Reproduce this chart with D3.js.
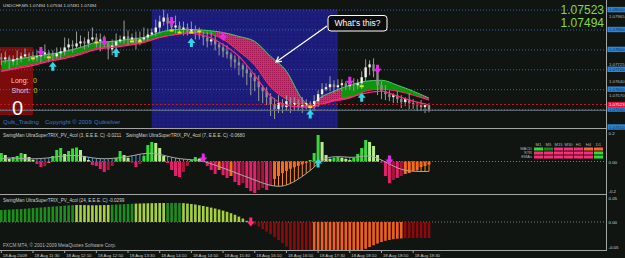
<!DOCTYPE html>
<html>
<head>
<meta charset="utf-8">
<script src="https://cdn.jsdelivr.net/npm/d3@7"></script>
<style>
html, body { margin: 0; padding: 0; background: #111512; overflow: hidden; }
svg { display: block; font-family: "Liberation Sans", Arial, sans-serif; }
</style>
</head>
<body>
<svg id="SVG_CONTAINER" width="625" height="258"></svg>
<script>
let d3 = window.d3;

const width = 625, height = 258;
const PLOT_RIGHT = 606;
const PIP = 0.0001;

// ---------- price chart (USDCHF M5, 18 Aug 2009) ----------
const chartTitle = "USDCHF,M5  1.07494 1.07534 1.07481 1.07494";
const firstBar = "10:50";
const lastBar = "19:50";
const firstOpen = 1.07760;
const closes = [
    1.07750,1.07760,1.07740,1.07750,1.07755,1.07765,1.07775,1.07770,1.07760,1.07765,
    1.07775,1.07785,1.07775,1.07765,1.07780,1.07790,1.07810,1.07825,1.07815,1.07830,
    1.07840,1.07830,1.07850,1.07860,1.07840,1.07850,1.07830,1.07800,1.07820,1.07840,
    1.07850,1.07865,1.07850,1.07860,1.07840,1.07850,1.07860,1.07875,1.07885,1.07910,
    1.07940,1.07960,1.07930,1.07910,1.07920,1.07900,1.07910,1.07890,1.07900,1.07880,
    1.07870,1.07860,1.07840,1.07850,1.07825,1.07810,1.07790,1.07775,1.07750,1.07735,
    1.07720,1.07700,1.07680,1.07660,1.07640,1.07610,1.07590,1.07560,1.07525,1.07500,
    1.07530,1.07510,1.07540,1.07520,1.07530,1.07510,1.07520,1.07530,1.07510,1.07540,
    1.07575,1.07600,1.07610,1.07625,1.07610,1.07620,1.07630,1.07615,1.07625,1.07620,
    1.07630,1.07660,1.07710,1.07725,1.07690,1.07620,1.07590,1.07575,1.07560,1.07570,
    1.07550,1.07535,1.07550,1.07530,1.07520,1.07525,1.07510,1.07520,1.07494
];
// wick lengths in pips above / below the body
const upperWick = [
    2,3,1,2,4,2,3,1,2,3, 2,4,1,2,3,2,5,3,2,6, 3,2,4,5,2,3,2,1,3,4,
    2,8,3,2,3,4,5,3,2,4, 3,4,2,3,5,2,3,2,4,2, 3,2,3,4,2,1,2,3,1,2,
    3,1,2,1,2,3,1,2,2,3, 4,2,3,2,3,2,4,2,1,3, 2,3,2,4,2,3,2,1,2,3,
    2,3,4,2,3,1,2,3,2,1, 2,2,1,3,2,1,2,1,1
];
const lowerWick = [
    3,2,4,2,3,2,1,3,2,2, 3,2,4,2,1,3,2,2,3,1, 2,3,2,1,3,5,2,5,3,2,
    1,2,3,2,4,2,1,2,1,2, 3,2,4,2,3,2,3,2,1,3, 2,4,3,2,3,4,3,2,4,3,
    5,4,6,9,5,7,6,4,6,5, 2,3,2,4,3,2,3,2,4,2, 3,2,1,2,3,2,3,2,2,3,
    2,3,2,4,3,5,4,3,2,3, 2,3,2,3,2,3,2,3,1
];
const askPrice = 1.07523, bidPrice = 1.07494;
const gridLevels = [1.0800, 1.0790, 1.0780, 1.0770, 1.0760, 1.0750];
const boxLevels = [1.0800, 1.0790, 1.0780, 1.0770, 1.0760, 1.0750, 1.0741];
const otherLevels = [1.07965, 1.07725, 1.07640, 1.07570];

// MA cloud (upper / lower edge) and the fast MA, sampled on these bars
const cloudBars  = [0,4,8,12,16,20,24,28,32,36,40,44,48,52,56,60,64,68,72,76,78,80,84,88,92,96,100,104,108];
const cloudUpper = [1.07740,1.07750,1.07765,1.07775,1.07790,1.07810,1.07835,1.07840,1.07850,1.07860,
                    1.07885,1.07900,1.07900,1.07895,1.07885,1.07865,1.07840,1.07765,1.07690,1.07550,
                    1.07515,1.07550,1.07590,1.07620,1.07640,1.07645,1.07620,1.07590,1.07555];
const cloudLower = [1.07690,1.07710,1.07725,1.07745,1.07760,1.07780,1.07805,1.07815,1.07825,1.07840,
                    1.07860,1.07875,1.07885,1.07880,1.07850,1.07790,1.07720,1.07610,1.07550,1.07520,
                    1.07510,1.07520,1.07540,1.07555,1.07590,1.07600,1.07590,1.07570,1.07545];
const cloudState = "GGGGGGGGGGGGGGPPPPPPPPPGGGGGP";
const fastMA     = [1.07690,1.07705,1.07720,1.07740,1.07755,1.07775,1.07800,1.07810,1.07820,1.07835,
                    1.07860,1.07875,1.07880,1.07865,1.07825,1.07765,1.07670,1.07565,1.07520,1.07510,
                    1.07510,1.07520,1.07545,1.07560,1.07580,1.07590,1.07565,1.07540,1.07520];
const crossBars   = [8, 12, 24, 33, 35, 43, 45, 48, 50, 78, 91];
const crossPrices = [1.07755,1.07760,1.07835,1.07840,1.07840,1.07895,1.07885,1.07885,1.07890,1.07510,1.07615];

const sellBars   = [10, 26, 43, 56, 88, 95];
const sellPrices = [1.07790, 1.07840, 1.07940, 1.07865, 1.07640, 1.07700];
const buyBars    = [13, 29, 48, 78, 91];
const buyPrices  = [1.07715, 1.07785, 1.07835, 1.07475, 1.07560];

const zoneStart = "14:00", zoneEnd = "17:55", zoneTop = 1.0800;

const tickTimes  = ["10:50","11:30","12:10","12:50","13:30","14:10","14:50","15:30","16:10","16:50","17:30","18:10","18:50","19:30"];
const tickLabels = ["18 Aug 2009","18 Aug 11:30","18 Aug 12:10","18 Aug 12:50","18 Aug 13:30","18 Aug 14:10","18 Aug 14:50",
                    "18 Aug 15:30","18 Aug 16:10","18 Aug 16:50","18 Aug 17:30","18 Aug 18:10","18 Aug 18:50","18 Aug 19:30"];

// ---------- SwingMan UltraSuperTRIX (3) and (7) ----------
const trix3 = [
    0.0586,0.0448,0.0172,0.0310,0.0380,0.0586,0.0517,0.0310,0.0103,-0.0172,
    -0.0379,-0.0310,-0.0103,0.0379,0.0793,0.0931,0.0517,0.0724,0.0897,0.0966,
    0.0793,0.0379,0.0103,-0.0241,-0.0310,-0.0517,-0.0724,-0.0586,-0.0310,0.0241,
    0.0724,0.0448,0.0241,-0.0069,-0.0379,-0.0172,0.0379,0.1138,0.1345,0.1276,
    0.0931,0.0379,-0.0103,-0.0586,-0.1000,-0.1069,-0.0724,-0.0310,0.0103,0.0310,
    0.0207,0.0034,-0.0310,-0.0586,-0.0862,-0.0586,-0.0931,-0.1138,-0.1000,-0.1414,
    -0.1621,-0.1483,-0.1828,-0.2034,-0.2172,-0.1966,-0.1828,-0.1966,-0.1690,-0.1200,
    -0.1000,-0.0800,-0.0650,-0.0500,-0.0400,-0.0300,-0.0200,-0.0100,0.0103,0.0586,
    0.1828,0.1345,0.0448,0.0172,0.0241,0.0310,0.0241,0.0172,0.0103,0.0241,
    0.0517,0.0931,0.1483,0.1345,0.1069,0.0448,-0.0069,-0.1000,-0.1483,-0.1276,
    -0.1138,-0.1000,-0.0862,-0.0793,-0.0655,-0.0586,-0.0379,-0.0310,-0.0211
];
const trix3State =
    "GLLGGGLLLP" + "PDOGGGLGGG" + "LLLPPPPDDG" + "GLLPPDGGGL" + "LLPPPPDDGG" +
    "LLPPPOPPOP" + "PDPPPDDPDO" + "OOOOOOOOGG" + "GLLLGGLLLG" + "GGGLLLPPPD" + "PDOOOOOOO";
const trix7 = [
    0.0207,0.0221,0.0241,0.0241,0.0228,0.0207,0.0193,0.0186,0.0186,0.0193,
    0.0207,0.0228,0.0255,0.0290,0.0324,0.0359,0.0386,0.0407,0.0414,0.0407,0.0386,
    0.0345,0.0297,0.0255,0.0221,0.0200,0.0193,0.0200,0.0214,0.0241,0.0276,0.0310,0.0345,0.0393,
    0.0448,0.0503,0.0545,0.0566,0.0566,0.0538,0.0490,0.0428,0.0359,
    0.0297,0.0241,0.0200,0.0166,0.0145,0.0124,0.0103,0.0069,0.0014,
    -0.0069,-0.0159,-0.0255,-0.0352,-0.0448,-0.0552,-0.0655,-0.0759,-0.0862,-0.0966,
    -0.1069,-0.1172,-0.1276,-0.1379,-0.1483,-0.1572,-0.1641,-0.1690,-0.1710,
    -0.1690,-0.1621,-0.1517,-0.1379,-0.1207,-0.1034,-0.0828,-0.0621,-0.0379,-0.0138,
    0.0069,
    0.0207,0.0290,0.0324,0.0331,0.0324,0.0310,0.0290,0.0290,0.0310,0.0345,0.0379,0.0379,0.0324,0.0221,
    0.0103,-0.0034,-0.0172,
    -0.0310,-0.0434,-0.0531,-0.0607,-0.0641,-0.0669,-0.0683,-0.0690,-0.0690,-0.0680
];
const trixSellBars = [51, 98], trixSellValues = [0.024, 0.010];
const trixBuyBars = [80], trixBuyValues = [-0.010];

// multi-timeframe table
const tfNames = ["M1", "M5", "M15", "M30", "H1", "H4", "D1"];
const tfRows = ["MACD", "STR", "EMAs"];
const tfStates = ["GDPPPOO", "PPPPPPG", "PPPPPPG"];

// ---------- SwingMan UltraSuperTRIX (24) ----------
const trix24 = [
    0.0224,0.0228,0.0231,0.0236,0.0240,0.0243,0.0248,0.0254,0.0260,0.0266,
    0.0271,0.0276,0.0283,0.0288,0.0293,0.0299,0.0305,0.0310,0.0314,0.0318,
    0.0318,0.0316,0.0314,0.0312,0.0312,0.0314,0.0316,0.0318,
    0.0321,0.0326,0.0329,0.0333,0.0336,0.0340,0.0344,0.0345,0.0348,0.0350,0.0352,0.0353,0.0355,0.0355,
    0.0355,0.0357,0.0357,0.0355,0.0352,
    0.0345,0.0336,0.0326,0.0312,0.0299,0.0284,0.0269,0.0252,0.0233,0.0213,0.0191,0.0164,0.0135,0.0101,0.0064,0.0022,
    -0.0015,-0.0047,-0.0084,-0.0131,-0.0178,-0.0224,-0.0281,-0.0336,-0.0393,-0.0458,
    -0.0523,-0.0561,-0.0588,-0.0607,-0.0617,-0.0626,-0.0626,-0.0626,-0.0621,-0.0617,
    -0.0607,-0.0598,-0.0595,-0.0587,-0.0578,-0.0566,-0.0553,-0.0540,-0.0525,
    -0.0501,-0.0467,-0.0434,-0.0402,-0.0374,-0.0351,-0.0335,-0.0321,-0.0312,-0.0307,
    -0.0303,-0.0301,-0.0298,-0.0297,-0.0297,-0.0298,-0.0299
];
const trix24Runs = [["G",19],["L",9],["G",6],["L",8],["G",4],["L",17],["R",16],["O",23],["R",7]];
const trix24SellBar = 63, trix24SellValue = 0.0;

// ---------- helpers ----------
function atTime(hhmm) {
    const [h, m] = hhmm.split(":").map(Number);
    return new Date(2009, 7, 18, h, m);
}
const barTime = i => d3.timeMinute.offset(atTime(firstBar), 5 * i);

const svg = d3.select("#SVG_CONTAINER");
const defs = svg.append("defs");

svg.append("rect").attr("width", width).attr("height", height).attr("fill", "#111512");

const x  = d3.scaleTime().domain([atTime(firstBar), atTime(lastBar)]).range([1.3, 429]);
const y  = d3.scaleLinear().domain([1.0741, 1.0805]).range([127, -0.35]);
const y2 = d3.scaleLinear().domain([-0.224, 0.224]).range([194, 129]);
const y3 = d3.scaleLinear().domain([-0.0523, 0.0523]).range([250, 194]);

function clipRect(id, top, bottom) {
    defs.append("clipPath").attr("id", id)
        .append("rect").attr("x", 0).attr("y", top).attr("width", PLOT_RIGHT).attr("height", bottom - top);
}
clipRect("clipMain", 0, 128);
clipRect("clipTrix", 129, 194);
clipRect("clipSlow", 195, 250);

// patterns
let pat = defs.append("pattern").attr("id", "blueDots").attr("patternUnits", "userSpaceOnUse")
    .attr("width", 4).attr("height", 4);
pat.append("rect").attr("width", 4).attr("height", 4).attr("fill", "#1d1d7c");
pat.append("rect").attr("x", 1).attr("y", 2).attr("width", 1).attr("height", 1).attr("fill", "#12125a");

pat = defs.append("pattern").attr("id", "pinkHatch").attr("patternUnits", "userSpaceOnUse")
    .attr("width", 2).attr("height", 2);
pat.append("rect").attr("width", 2).attr("height", 2).attr("fill", "#dc2672");
pat.append("rect").attr("width", 1).attr("height", 1).attr("fill", "#a01450");

const arrowDown = "M-4,-0.5L-1.5,-0.5L-1.5,-4.5L1.5,-4.5L1.5,-0.5L4,-0.5L0,4.5Z";
const arrowUp   = "M-4,0.5L-1.5,0.5L-1.5,4.5L1.5,4.5L1.5,0.5L4,0.5L0,-4.5Z";
const SELL = "#e22ee2", BUY = "#2ed6e6";

// ================= main chart =================
const main = svg.append("g").attr("clip-path", "url(#clipMain)");

// highlighted session zone
main.append("rect")
    .attr("x", x(atTime(zoneStart)))
    .attr("y", y(zoneTop))
    .attr("width", x(atTime(zoneEnd)) - x(atTime(zoneStart)))
    .attr("height", 128 - y(zoneTop))
    .attr("fill", "url(#blueDots)");

// info panel background
main.append("rect").attr("x", 0).attr("y", 47).attr("width", 33).attr("height", 68).attr("fill", "#7c0b0b");

// grid
main.append("g").selectAll("line").data(gridLevels).join("line")
    .attr("x1", 0).attr("x2", PLOT_RIGHT)
    .attr("y1", d => y(d) + 0.5).attr("y2", d => y(d) + 0.5)
    .attr("stroke", "#3a62b0").attr("stroke-dasharray", "1,2");

// cloud
const cloud = cloudBars.map((b, k) => ({ t: barTime(b), up: cloudUpper[k], lo: cloudLower[k], s: cloudState[k], f: fastMA[k] }));
const cloudArea = d3.area().x(d => x(d.t)).y0(d => y(d.lo)).y1(d => y(d.up)).curve(d3.curveMonotoneX);
defs.append("clipPath").attr("id", "cloudClip").append("path").attr("d", cloudArea(cloud));
const edgeL = k => k === 0 ? x(cloud[k].t) - 4 : (x(cloud[k - 1].t) + x(cloud[k].t)) / 2;
const edgeR = k => k === cloud.length - 1 ? x(cloud[k].t) + 4 : (x(cloud[k].t) + x(cloud[k + 1].t)) / 2;
main.append("g").attr("clip-path", "url(#cloudClip)")
    .selectAll("rect").data(cloud).join("rect")
    .attr("x", (d, k) => edgeL(k)).attr("width", (d, k) => edgeR(k) - edgeL(k) + 0.5)
    .attr("y", 0).attr("height", 128)
    .attr("fill", d => d.s === "G" ? "#0d960d" : "url(#pinkHatch)");

main.append("path").datum(cloud)
    .attr("d", d3.line().x(d => x(d.t)).y(d => y(d.up)).curve(d3.curveMonotoneX))
    .attr("fill", "none").attr("stroke", "#4ccc6a").attr("stroke-width", 1);
main.append("path").datum(cloud)
    .attr("d", d3.line().x(d => x(d.t)).y(d => y(d.lo)).curve(d3.curveMonotoneX))
    .attr("fill", "none").attr("stroke", "#ff2468").attr("stroke-width", 1);

// candles
const bars = closes.map((c, i) => {
    const o = i === 0 ? firstOpen : closes[i - 1];
    return { t: barTime(i), o: o, c: c, h: Math.max(o, c) + upperWick[i] * PIP, l: Math.min(o, c) - lowerWick[i] * PIP };
});
const bw = 2.4;
main.append("g").selectAll("line").data(bars).join("line")
    .attr("x1", d => x(d.t)).attr("x2", d => x(d.t))
    .attr("y1", d => y(d.h)).attr("y2", d => y(d.l))
    .attr("stroke", "#9a9a9a").attr("stroke-width", 1);
main.append("g").selectAll("rect").data(bars).join("rect")
    .attr("x", d => x(d.t) - bw / 2).attr("width", bw)
    .attr("y", d => y(Math.max(d.o, d.c)))
    .attr("height", d => Math.max(1, Math.abs(y(d.o) - y(d.c))))
    .attr("fill", d => d.c > d.o ? "#f2f2f2" : "#8c8c8c");

// fast MA
main.append("path").datum(cloud)
    .attr("d", d3.line().x(d => x(d.t)).y(d => y(d.f)).curve(d3.curveMonotoneX))
    .attr("fill", "none").attr("stroke", "#ff2a7a").attr("stroke-width", 1.2);

// cross marks
main.append("g").selectAll("rect").data(crossBars).join("rect")
    .attr("x", (b) => x(barTime(b)) - 2).attr("width", 4)
    .attr("y", (b, k) => y(crossPrices[k]) - 1).attr("height", 2)
    .attr("fill", "#e6e020");

// ask / bid
main.append("line").attr("x1", 0).attr("x2", PLOT_RIGHT).attr("y1", y(askPrice)).attr("y2", y(askPrice))
    .attr("stroke", "#c8141e").attr("stroke-dasharray", "2,2");
main.append("line").attr("x1", 0).attr("x2", PLOT_RIGHT).attr("y1", y(bidPrice)).attr("y2", y(bidPrice))
    .attr("stroke", "#6c7884");

// signal arrows
main.append("g").selectAll("path").data(sellBars).join("path")
    .attr("transform", (b, k) => `translate(${x(barTime(b))},${y(sellPrices[k])})`)
    .attr("d", arrowDown).attr("fill", SELL);
main.append("g").selectAll("path").data(buyBars).join("path")
    .attr("transform", (b, k) => `translate(${x(barTime(b))},${y(buyPrices[k])})`)
    .attr("d", arrowUp).attr("fill", BUY);

// texts on main chart
main.append("text").attr("x", 3).attr("y", 7).text(chartTitle)
    .style("font-size", "4.4px").attr("fill", "#d8d8d8");
main.append("text").attr("x", 11).attr("y", 82.7).text("Long:").style("font-size", "7px").attr("fill", "#f2c8d0");
main.append("text").attr("x", 33).attr("y", 82.7).text("0").style("font-size", "7px").attr("fill", "#c8c400");
main.append("text").attr("x", 11.5).attr("y", 92.7).text("Short:").style("font-size", "7px").attr("fill", "#f2c8d0");
main.append("text").attr("x", 33.5).attr("y", 92.7).text("0").style("font-size", "7px").attr("fill", "#c8c400");
main.append("text").attr("x", 12).attr("y", 115).text("0").style("font-size", "20px").attr("fill", "#ffffff");
main.append("text").attr("x", 3).attr("y", 124).text("Quik_Trading").style("font-size", "6px").attr("fill", "#3a72d4");
main.append("text").attr("x", 45).attr("y", 124).text("Copyright © 2009").style("font-size", "6px").attr("fill", "#3a72d4");
main.append("text").attr("x", 94).attr("y", 124).text("Quiksilver").style("font-size", "6px").attr("fill", "#3a72d4");

main.append("text").attr("x", 604).attr("y", 14).attr("text-anchor", "end").text(d3.format(".5f")(askPrice))
    .style("font-size", "12px").attr("fill", "#84da3a");
main.append("text").attr("x", 604).attr("y", 27).attr("text-anchor", "end").text(d3.format(".5f")(bidPrice))
    .style("font-size", "12px").attr("fill", "#84da3a");

// "What's this?" call-out
main.append("rect").attr("x", 328).attr("y", 15.5).attr("width", 59).attr("height", 15.5).attr("rx", 3)
    .attr("fill", "#0c0c0c").attr("stroke", "#ffffff").attr("stroke-width", 1);
main.append("text").attr("x", 357.5).attr("y", 26.2).attr("text-anchor", "middle").text("What's this?")
    .style("font-size", "8.5px").attr("fill", "#ffffff");
main.append("path").attr("d", "M327,26L276,62M282,61.4L276,62L278.5,56.5")
    .attr("fill", "none").attr("stroke", "#ffffff").attr("stroke-width", 1.3);

// right price axis
const axisG = svg.append("g");
axisG.selectAll("rect.lvl").data(boxLevels).join("rect").attr("class", "lvl")
    .attr("x", 607.5).attr("width", 18).attr("y", d => y(d) - 2.7).attr("height", 5.4).attr("fill", "#2a86d6");
axisG.selectAll("text.lvl").data(boxLevels).join("text").attr("class", "lvl")
    .attr("x", 609).attr("y", d => y(d) + 1.6).text(d => d3.format(".5f")(d))
    .style("font-size", "4.3px").attr("fill", "#0c2a52");
axisG.selectAll("text.oth").data(otherLevels).join("text").attr("class", "oth")
    .attr("x", 609).attr("y", d => y(d) + 1.6).text(d => d3.format(".5f")(d))
    .style("font-size", "4.3px").attr("fill", "#bcbcbc");
axisG.append("rect").attr("x", 607.5).attr("width", 18).attr("y", y(askPrice) - 2.7).attr("height", 5.4).attr("fill", "#e8143c");
axisG.append("text").attr("x", 609).attr("y", y(askPrice) + 1.6).text(d3.format(".5f")(askPrice))
    .style("font-size", "4.3px").attr("fill", "#ffffff");

// ================= TRIX 3 / 7 pane =================
const trixG = svg.append("g").attr("clip-path", "url(#clipTrix)");
const colors3 = { G: "#38d838", L: "#b4ee8a", P: "#e4206c", D: "#a8143c", O: "#ff6a1a" };

trixG.append("line").attr("x1", 0).attr("x2", PLOT_RIGHT).attr("y1", y2(0)).attr("y2", y2(0))
    .attr("stroke", "#7a7a7a").attr("stroke-dasharray", "1,2");

trixG.append("g").selectAll("line").data(trix7).join("line")
    .attr("x1", (d, i) => x(barTime(i))).attr("x2", (d, i) => x(barTime(i)))
    .attr("y1", y2(0)).attr("y2", d => y2(d))
    .attr("stroke", d => d >= 0 ? "#3c9ce0" : "#ff8c22").attr("stroke-width", 1);

trixG.append("g").selectAll("rect").data(trix3).join("rect")
    .attr("x", (d, i) => x(barTime(i)) - 1.5).attr("width", 3)
    .attr("y", d => Math.min(y2(d), y2(0)))
    .attr("height", d => Math.abs(y2(d) - y2(0)))
    .attr("fill", (d, i) => colors3[trix3State[i]]);

trixG.append("path").datum(trix7)
    .attr("d", d3.line().x((d, i) => x(barTime(i))).y(d => y2(d)).curve(d3.curveMonotoneX))
    .attr("fill", "none").attr("stroke", "#a8a8a8").attr("stroke-width", 1);

trixG.append("g").selectAll("path").data(trixSellBars).join("path")
    .attr("transform", (b, k) => `translate(${x(barTime(b))},${y2(trixSellValues[k])})`)
    .attr("d", arrowDown).attr("fill", SELL);
trixG.append("g").selectAll("path").data(trixBuyBars).join("path")
    .attr("transform", (b, k) => `translate(${x(barTime(b))},${y2(trixBuyValues[k])})`)
    .attr("d", arrowUp).attr("fill", BUY);

trixG.append("text").attr("x", 3).attr("y", 136.5)
    .text("SwingMan UltraSuperTRIX_PV_4col (3, E.E.E. C) -0.0211").style("font-size", "4.6px").attr("fill", "#cfcfcf");
trixG.append("text").attr("x", 126).attr("y", 136.5)
    .text("SwingMan UltraSuperTRIX_PV_4col (7, E.E.E. C) -0.0680").style("font-size", "4.6px").attr("fill", "#cfcfcf");

// timeframe table
const tfColors = { G: "#2ee02e", D: "#1a841a", P: "#ff2a7a", O: "#ff6238" };
const tfX = j => 534 + 10 * j;
trixG.append("g").selectAll("text").data(tfNames).join("text")
    .attr("x", (d, j) => tfX(j) + 4.5).attr("y", 146).attr("text-anchor", "middle")
    .text(d => d).style("font-size", "4.2px").attr("fill", "#b4b4b4");
tfRows.forEach((row, r) => {
    trixG.append("text").attr("x", 532).attr("y", 150.3 + 4 * r).attr("text-anchor", "end")
        .text(row).style("font-size", "4px").attr("fill", "#b4b4b4");
    trixG.append("g").selectAll("rect").data(tfStates[r].split("")).join("rect")
        .attr("x", (d, j) => tfX(j)).attr("width", 9)
        .attr("y", 147.5 + 4 * r).attr("height", 3)
        .attr("fill", d => tfColors[d]);
});

// ================= TRIX 24 pane =================
const slowG = svg.append("g").attr("clip-path", "url(#clipSlow)");
const colors24 = { G: "#1c8e1c", L: "#a6d03e", R: "#8c0a0a", O: "#f0601a" };
const trix24State = trix24Runs.map(r => r[0].repeat(r[1])).join("");

slowG.append("line").attr("x1", 0).attr("x2", PLOT_RIGHT).attr("y1", y3(0)).attr("y2", y3(0))
    .attr("stroke", "#7a7a7a").attr("stroke-dasharray", "1,2");
slowG.append("g").selectAll("rect").data(trix24).join("rect")
    .attr("x", (d, i) => x(barTime(i)) - 1.3).attr("width", 2.6)
    .attr("y", d => Math.min(y3(d), y3(0)))
    .attr("height", d => Math.abs(y3(d) - y3(0)))
    .attr("fill", (d, i) => colors24[trix24State[i]]);
slowG.append("path")
    .attr("transform", `translate(${x(barTime(trix24SellBar))},${y3(trix24SellValue)})`)
    .attr("d", arrowDown).attr("fill", "#ff2a7a");

slowG.append("text").attr("x", 3).attr("y", 202)
    .text("SwingMan UltraSuperTRIX_PV_4col (24, E.E.E. C) -0.0299").style("font-size", "4.6px").attr("fill", "#cfcfcf");
slowG.append("text").attr("x", 3).attr("y", 247)
    .text("FXCM MT4, © 2001-2009 MetaQuotes Software Corp.").style("font-size", "4.7px").attr("fill", "#b8b8b8");

// sub-pane scale labels
const paneLabels = [
    { t: "0.2", v: 0.2, s: y2 }, { t: "0.00", v: 0, s: y2 }, { t: "-0.2", v: -0.2, s: y2 },
    { t: "0.05", v: 0.05, s: y3 }, { t: "0.00", v: 0, s: y3 }, { t: "-0.05", v: -0.05, s: y3 }
];
svg.append("g").selectAll("text").data(paneLabels).join("text")
    .attr("x", 608.5).attr("y", d => Math.min(248.5, Math.max(d.s.range()[1] + 5.5, d.s(d.v) + 2)))
    .text(d => d.t).style("font-size", "4.4px").attr("fill", "#d0d0d0");

// frame
const frame = svg.append("g").attr("stroke", "#a4a4a4").attr("stroke-width", 1);
[128.5, 194.5, 250.5].forEach(v => frame.append("line").attr("x1", 0).attr("x2", PLOT_RIGHT + 1).attr("y1", v).attr("y2", v));
frame.append("line").attr("x1", PLOT_RIGHT + 0.5).attr("x2", PLOT_RIGHT + 0.5).attr("y1", 0).attr("y2", 251);

// time axis
const tickG = svg.append("g");
tickTimes.forEach((t, k) => {
    const tx = x(atTime(t));
    tickG.append("line").attr("x1", tx).attr("x2", tx).attr("y1", 250.5).attr("y2", 253)
        .attr("stroke", "#a4a4a4");
    tickG.append("text").attr("x", tx + 1.5).attr("y", 256.5).text(tickLabels[k])
        .style("font-size", "4.3px").attr("fill", "#c8c8c8");
});
</script>
</body>
</html>
